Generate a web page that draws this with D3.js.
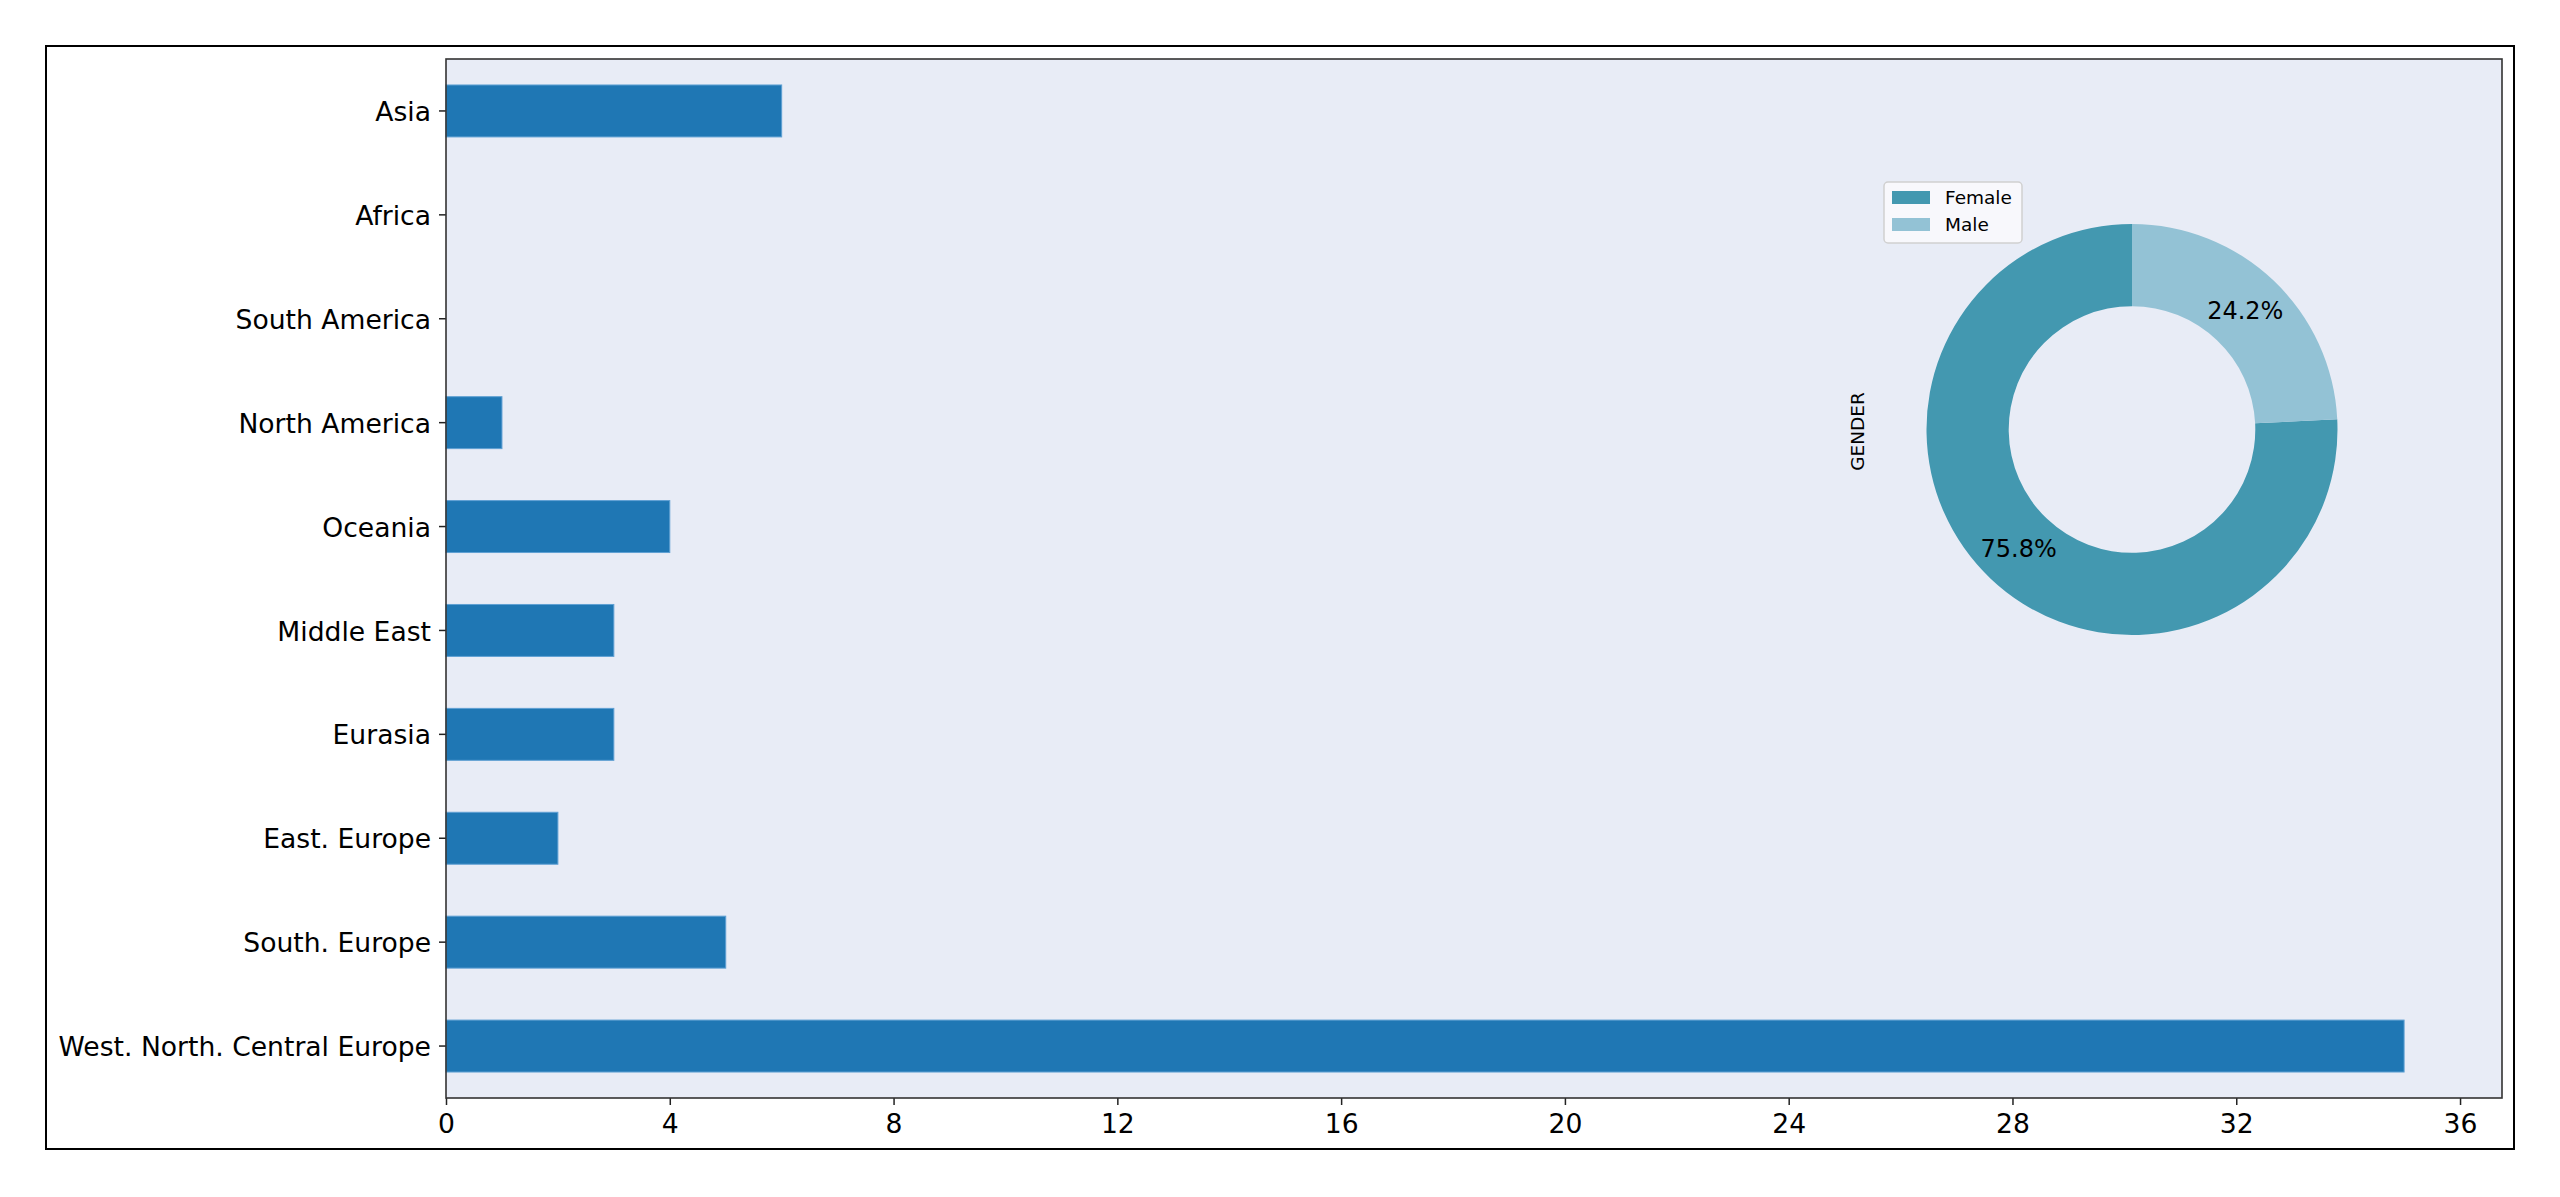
<!DOCTYPE html>
<html>
<head>
<meta charset="utf-8">
<script src="https://cdn.jsdelivr.net/npm/d3@7"></script>
<style>
  html, body { margin: 0; padding: 0; background: #ffffff; }
  svg { display: block; font-family: "DejaVu Sans", sans-serif; }
</style>
</head>
<body>
<svg id="chart" width="2560" height="1197"></svg>
<script>
// ---- data ----
const regions = ["Asia", "Africa", "South America", "North America", "Oceania",
                 "Middle East", "Eurasia", "East. Europe", "South. Europe",
                 "West. North. Central Europe"];
const regionCounts = [6, 0, 0, 1, 4, 3, 3, 2, 5, 35];
const xTicks = [0, 4, 8, 12, 16, 20, 24, 28, 32, 36];
const genderLabels = ["Female", "Male"];
const genderShares = [75.8, 24.2];
const genderTitle = "GENDER";

// ---- layout ----
const W = 2560, H = 1197;
const frame = {x0: 46, y0: 46, x1: 2514, y1: 1149};
const plot = {x0: 446, y0: 59, x1: 2502, y1: 1098};
const barColor = "#1f77b4";
const bgColor = "#e8ecf6";
const pieColors = ["#4398b0", "#93c2d5"];

const svg = d3.select("#chart");
svg.append("rect").attr("width", W).attr("height", H).attr("fill", "#fff");

// outer frame
svg.append("rect")
  .attr("x", frame.x0).attr("y", frame.y0)
  .attr("width", frame.x1 - frame.x0).attr("height", frame.y1 - frame.y0)
  .attr("fill", "none").attr("stroke", "#000").attr("stroke-width", 2);

// plot background
svg.append("rect")
  .attr("x", plot.x0).attr("y", plot.y0)
  .attr("width", plot.x1 - plot.x0).attr("height", plot.y1 - plot.y0)
  .attr("fill", bgColor);

const x = d3.scaleLinear()
  .domain([0, d3.max(regionCounts) * 1.05])
  .range([plot.x0, plot.x1]);

const y = d3.scaleBand()
  .domain(regions)
  .range([plot.y0, plot.y1])
  .paddingInner(0.5)
  .paddingOuter(0.25);

// bars
svg.append("g").selectAll("rect")
  .data(regions.map((r, i) => ({r, v: regionCounts[i]})))
  .join("rect")
  .filter(d => d.v > 0)
  .attr("x", x(0))
  .attr("y", d => y(d.r))
  .attr("width", d => x(d.v) - x(0))
  .attr("height", y.bandwidth())
  .attr("fill", barColor)
  .attr("stroke", "#5fa0d3")
  .attr("stroke-width", 1);

// axes
const fontPx = 26.6;
const xAxis = svg.append("g")
  .attr("transform", `translate(0,${plot.y1})`)
  .call(d3.axisBottom(x).tickValues(xTicks).tickSize(7).tickPadding(9).tickFormat(d3.format("d")));
xAxis.select(".domain").remove();
xAxis.selectAll(".tick line").attr("stroke", "#222").attr("stroke-width", 1.5);
xAxis.selectAll(".tick text").attr("font-size", fontPx).attr("fill", "#000")
  .attr("font-family", "DejaVu Sans");

const yAxis = svg.append("g")
  .attr("transform", `translate(${plot.x0},0)`)
  .call(d3.axisLeft(y).tickSize(7).tickPadding(8));
yAxis.select(".domain").remove();
yAxis.selectAll(".tick line").attr("stroke", "#222").attr("stroke-width", 1.5);
yAxis.selectAll(".tick text").attr("font-size", fontPx).attr("fill", "#000")
  .attr("dy", "0.38em").attr("font-family", "DejaVu Sans");

// spines
svg.append("rect")
  .attr("x", plot.x0).attr("y", plot.y0)
  .attr("width", plot.x1 - plot.x0).attr("height", plot.y1 - plot.y0)
  .attr("fill", "none").attr("stroke", "#333").attr("stroke-width", 1.6);

// ---- donut ----
const cx = 2132, cy = 429.5, rOuter = 205.5, rInner = rOuter * 0.6;
const pie = d3.pie().sort(null)
  // matplotlib startangle=90, counter-clockwise: d3 angles run clockwise from 12 o'clock
  .startAngle(0).endAngle(-2 * Math.PI);
const arcs = pie(genderShares);
const arcGen = d3.arc().innerRadius(rInner).outerRadius(rOuter);
const pieG = svg.append("g").attr("transform", `translate(${cx},${cy})`);
pieG.selectAll("path").data(arcs).join("path")
  .attr("d", arcGen)
  .attr("fill", (d, i) => pieColors[i]);

const total = d3.sum(genderShares);
pieG.selectAll("text.pct").data(arcs).join("text")
  .attr("class", "pct")
  .attr("transform", d => {
    const a = (d.startAngle + d.endAngle) / 2;
    const r = rOuter * 0.8;
    return `translate(${r * Math.sin(a)},${-r * Math.cos(a)})`;
  })
  .attr("text-anchor", "middle")
  .attr("dy", "0.36em")
  .attr("font-size", 24)
  .attr("fill", "#000")
  .text(d => (d.data / total * 100).toFixed(1) + "%");

// GENDER label
svg.append("text")
  .attr("transform", `translate(1857,431.5) rotate(-90)`)
  .attr("text-anchor", "middle")
  .attr("dy", "0.36em")
  .attr("font-size", 18.5)
  .attr("fill", "#000")
  .text(genderTitle);

// legend
const lg = svg.append("g").attr("transform", "translate(1884,182)");
lg.append("rect")
  .attr("width", 138).attr("height", 61).attr("rx", 4)
  .attr("fill", "#f9fafd").attr("fill-opacity", 0.9)
  .attr("stroke", "#d0d0d0").attr("stroke-width", 1.5);
genderLabels.forEach((lab, i) => {
  lg.append("rect")
    .attr("x", 8).attr("y", 9 + i * 27)
    .attr("width", 38).attr("height", 13)
    .attr("fill", pieColors[i]);
  lg.append("text")
    .attr("x", 61).attr("y", 15.5 + i * 27)
    .attr("dy", "0.36em")
    .attr("font-size", 18.5)
    .attr("fill", "#000")
    .text(lab);
});
</script>
</body>
</html>
